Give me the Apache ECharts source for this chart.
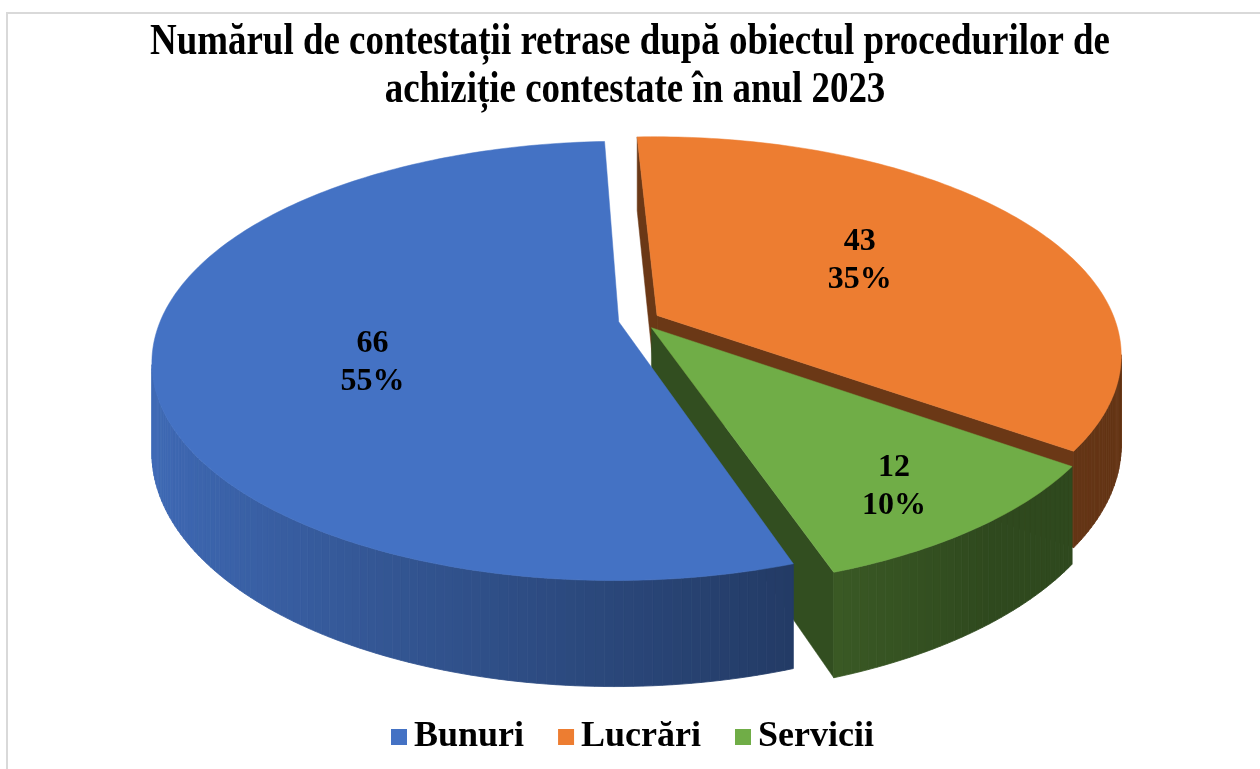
<!DOCTYPE html>
<html lang="ro">
<head>
    <meta charset="UTF-8">
    <title>Contestații retrase 2023</title>
    <script src="https://cdn.jsdelivr.net/npm/echarts@6/dist/echarts.min.js"></script>
    <style>
        html, body { margin: 0; padding: 0; background: #fff; }
        #chart { width: 1260px; height: 769px; }
    </style>
</head>
<body>
<div id="chart"></div>
<script type="text/javascript">
    // date
    var categories = ['Bunuri', 'Lucrări', 'Servicii'];
    var values = [66, 43, 12];
    var percentLabels = ['55%', '35%', '10%'];
    var colors = ['#4472C4', '#ED7D31', '#70AD47'];
    var titleLines = ['Numărul de contestații retrase după obiectul procedurilor de',
                      'achiziție contestate în anul 2023'];

    // geometria "3D": elipsa cu perspectiva simpla
    var CX = 639, CY = 320;      // centrul discului pe ecran
    var RX = 458, RY = 212;      // raze
    var PERSP = 0.178;           // cat de mult se mareste partea din fata
    var DEPTH = 87;              // grosimea feliei
    var EXPLODE = 0.045;         // departarea feliilor de centru
    var START_ANGLE = 161.1;     // unghiul primei felii, in sensul acelor de la spate
    var RAD = Math.PI / 180;
    // pozitia etichetelor: [raza relativa, decalaj unghi]
    var labelPos = [[0.55, -9], [0.54, -1.5], [0.8, 1.5]];

    var total = 0;
    values.forEach(function (v) { total += v; });
    var slices = [];
    var acc = START_ANGLE;
    values.forEach(function (v) {
        var span = v / total * 360;
        slices.push({ a0: acc, a1: acc + span });
        acc += span;
    });

    function project(u, v, w) {
        var den = 1 - PERSP * v;
        return [CX + RX * u / den, CY + (RY * v + DEPTH * w) / den];
    }

    function shade(hex, f) {
        var r = parseInt(hex.substr(1, 2), 16), g = parseInt(hex.substr(3, 2), 16), b = parseInt(hex.substr(5, 2), 16);
        return 'rgb(' + Math.round(r * f) + ',' + Math.round(g * f) + ',' + Math.round(b * f) + ')';
    }

    function wallFactor(theta) {
        var f = 0.62 - 0.32 * Math.sin(theta);
        return Math.max(0.42, Math.min(0.95, f));
    }

    function makeRender(i) {
        return function (params, api) {
            var s = slices[i];
            var color = colors[i];
            var mid = (s.a0 + s.a1) / 2 * RAD;
            var ox = EXPLODE * Math.sin(mid), oy = -EXPLODE * Math.cos(mid);
            var camV = 1 / PERSP;
            function uv(theta, r) { return [ox + r * Math.sin(theta), oy - r * Math.cos(theta)]; }
            function pt(theta, r, w) { var p = uv(theta, r); return project(p[0], p[1], w); }
            var children = [];
            var a0 = s.a0 * RAD, a1 = s.a1 * RAD;
            var n = Math.max(4, Math.ceil((s.a1 - s.a0) / 1));
            var step = (a1 - a0) / n;

            // peretele exterior, pe segmente
            for (var k = 0; k < n; k++) {
                var t0 = a0 + k * step, t1 = t0 + step, tm = t0 + step / 2;
                var pm = uv(tm, 1);
                var dot = -pm[0] * Math.sin(tm) + (camV - pm[1]) * (-Math.cos(tm));
                if (dot <= 0) continue;
                var c = shade(color, wallFactor(tm));
                children.push({
                    type: 'polygon',
                    shape: { points: [pt(t0, 1, 0), pt(t1, 1, 0), pt(t1, 1, 1), pt(t0, 1, 1)] },
                    style: { fill: c, stroke: c, lineWidth: 0.8 },
                    z2: 100 + Math.round(pm[1] * 40)
                });
            }

            // peretii radiali
            [[a0, -1], [a1, 1]].forEach(function (w) {
                var th = w[0], sgn = w[1];
                var nu = sgn * Math.cos(th), nv = sgn * Math.sin(th);
                var d = -ox * nu + (camV - oy) * nv;
                if (d <= 0) return;
                var pe = uv(th, 1);
                var c = shade(color, 0.45);
                children.push({
                    type: 'polygon',
                    shape: { points: [project(ox, oy, 0), pt(th, 1, 0), pt(th, 1, 1), project(ox, oy, 1)] },
                    style: { fill: c, stroke: c, lineWidth: 0.5 },
                    z2: 100 + Math.round((oy + pe[1]) / 2 * 40)
                });
            });

            // fata de sus
            var top = [project(ox, oy, 0)];
            for (var j = 0; j <= n; j++) top.push(pt(a0 + j * step, 1, 0));
            children.push({
                type: 'polygon',
                shape: { points: top },
                style: { fill: color, stroke: color, lineWidth: 0.5 },
                z2: 300
            });

            // eticheta
            var lp = pt((s.a0 + s.a1) / 2 * RAD + labelPos[i][1] * RAD, labelPos[i][0], 0);
            children.push({
                type: 'text',
                x: lp[0], y: lp[1],
                style: {
                    text: values[i] + '\n' + percentLabels[i],
                    font: 'bold 32px "Liberation Serif"',
                    fill: '#000',
                    align: 'center',
                    verticalAlign: 'middle',
                    lineHeight: 38
                },
                z2: 500
            });
            return { type: 'group', children: children };
        };
    }

    // latimea titlului (textul original e comprimat pe orizontala)
    var ctx = document.createElement('canvas').getContext('2d');
    ctx.font = 'bold 44px "Liberation Serif"';
    var titleScale = 960 / ctx.measureText(titleLines[0]).width;

    var myChart = echarts.init(document.getElementById('chart'));
    var series = categories.map(function (name, i) {
        return {
            type: 'custom',
            name: name,
            coordinateSystem: 'none',
            silent: true,
            itemStyle: { color: colors[i] },
            data: [values[i]],
            renderItem: makeRender(i)
        };
    });

    myChart.setOption({
        animation: false,
        graphic: [
            {
                type: 'rect',
                shape: { x: 7, y: 13, width: 1300, height: 800 },
                style: { fill: 'none', stroke: '#d9d9d9', lineWidth: 2 },
                silent: true
            },
            {
                type: 'text', x: 630, y: 43, scaleX: titleScale,
                style: { text: titleLines[0], font: 'bold 44px "Liberation Serif"', fill: '#000', align: 'center', verticalAlign: 'middle' }
            },
            {
                type: 'text', x: 635, y: 91, scaleX: titleScale,
                style: { text: titleLines[1], font: 'bold 44px "Liberation Serif"', fill: '#000', align: 'center', verticalAlign: 'middle' }
            }
        ],
        legend: {
            left: 386,
            top: 714,
            icon: 'rect',
            itemWidth: 16,
            itemHeight: 16,
            itemGap: 34,
            data: categories.map(function (c, i) { return { name: c, itemStyle: { color: colors[i] } }; }),
            textStyle: { fontFamily: 'Liberation Serif', fontWeight: 'bold', fontSize: 36, color: '#000', padding: [0, 0, 0, 2] }
        },
        series: series
    });
</script>
</body>
</html>
